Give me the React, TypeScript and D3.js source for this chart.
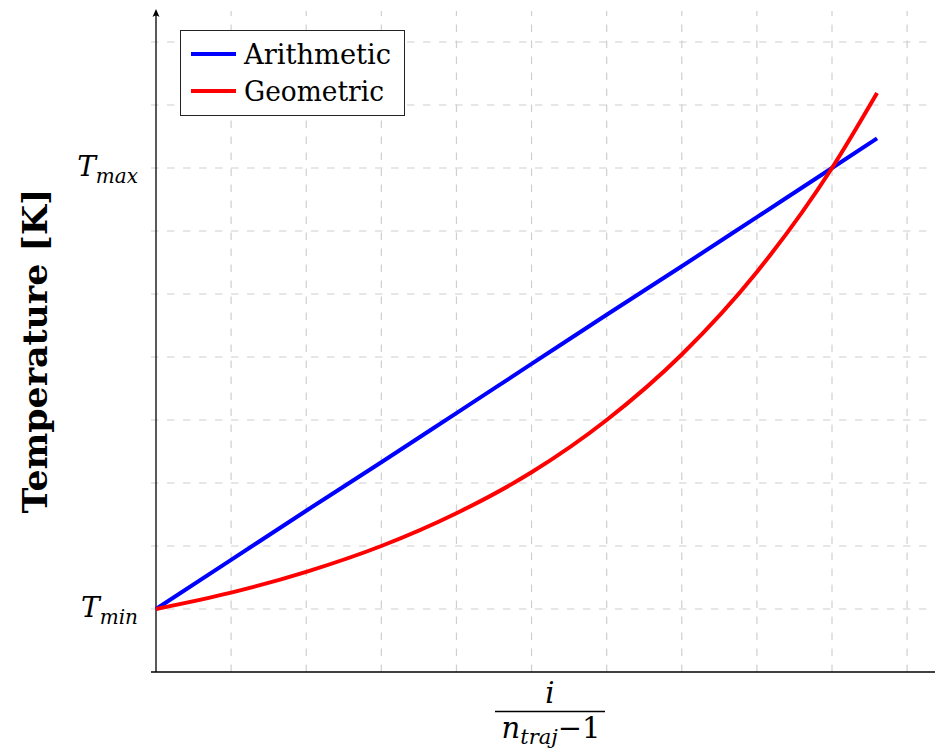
import React, { useEffect, useRef } from 'react';
import * as d3 from 'd3';

// step index i (grid every step), last sample a bit past n_traj - 1
const steps = [0, 1, 2, 3, 4, 5, 6, 7, 8, 9, 9.6];
// temperature in grid units, Tmin = 1, Tmax = 8
const arithmetic = [1, 1.78, 2.56, 3.33, 4.11, 4.89, 5.67, 6.44, 7.22, 8, 8.47];
const geometric = [1, 1.26, 1.59, 2.0, 2.52, 3.17, 4.0, 5.04, 6.35, 8.0, 9.19];
const xGrid = [1, 2, 3, 4, 5, 6, 7, 8, 9, 10];
const yGrid = [1, 2, 3, 4, 5, 6, 7, 8, 9, 10];
const yTickLabels = [
  { v: 1, sub: 'min' },
  { v: 8, sub: 'max' },
];
const seriesNames = ['Arithmetic', 'Geometric'];
const seriesColors = ['#0000ff', '#ff0000'];

const W = 935;
const H = 749;
const FONT = 'DejaVu Serif';

export default function App() {
  const ref = useRef<SVGSVGElement>(null);

  useEffect(() => {
    const svg = d3.select(ref.current);
    svg.selectAll('*').remove();

    const x = d3.scaleLinear().domain([0, 9]).range([156, 832]);
    const y = d3.scaleLinear().domain([1, 8]).range([609, 168]);

    const grid = svg.append('g')
      .attr('stroke', '#cfcfcf')
      .attr('stroke-width', 1.2)
      .attr('stroke-dasharray', '7.5 8.5');
    grid.selectAll('line.h')
      .data(yGrid)
      .enter()
      .append('line')
        .attr('x1', 151)
        .attr('x2', W)
        .attr('y1', d => y(d))
        .attr('y2', d => y(d));
    grid.selectAll('line.v')
      .data(xGrid)
      .enter()
      .append('line')
        .attr('x1', d => x(d))
        .attr('x2', d => x(d))
        .attr('y1', y(0))
        .attr('y2', 11);

    // axes
    const axes = svg.append('g').attr('stroke', '#000').attr('stroke-width', 1.3);
    axes.append('line')
      .attr('x1', 151).attr('x2', W)
      .attr('y1', y(0)).attr('y2', y(0));
    axes.append('line')
      .attr('x1', x(0)).attr('x2', x(0))
      .attr('y1', y(0)).attr('y2', 12);
    svg.append('path')
      .attr('d', `M${x(0)},9 L${x(0) - 3.5},17 Q${x(0)},14 ${x(0) + 3.5},17 Z`)
      .attr('fill', '#000');

    const line = d3.line<number>()
      .x((d, i) => x(steps[i]))
      .y(d => y(d))
      .curve(d3.curveMonotoneX);

    [arithmetic, geometric].forEach((vals, k) => {
      svg.append('path')
        .attr('d', line(vals))
        .attr('fill', 'none')
        .attr('stroke', seriesColors[k])
        .attr('stroke-width', 4);
    });

    // y tick labels
    yTickLabels.forEach(t => {
      const txt = svg.append('text')
        .attr('x', 138)
        .attr('y', y(t.v) + 8)
        .attr('text-anchor', 'end')
        .style('font-family', FONT)
        .attr('font-style', 'italic')
        .attr('font-size', 28);
      txt.append('tspan').text('T');
      txt.append('tspan').attr('font-size', 20).attr('dy', 7).text(t.sub);
    });

    // y label
    svg.append('text')
      .attr('transform', `translate(47,351) rotate(-90)`)
      .attr('text-anchor', 'middle')
      .style('font-family', FONT)
      .attr('font-weight', 'bold')
      .attr('font-size', 33)
      .attr('textLength', 325)
      .attr('lengthAdjust', 'spacingAndGlyphs')
      .text('Temperature [K]');

    // x label as fraction
    svg.append('text')
      .attr('x', 550)
      .attr('y', 703)
      .attr('text-anchor', 'middle')
      .style('font-family', FONT)
      .attr('font-style', 'italic')
      .attr('font-size', 29)
      .text('i');
    svg.append('line')
      .attr('x1', 495).attr('x2', 605)
      .attr('y1', 711.5).attr('y2', 711.5)
      .attr('stroke', '#000')
      .attr('stroke-width', 1.5);
    const den = svg.append('text')
      .attr('x', 551)
      .attr('y', 738)
      .attr('text-anchor', 'middle')
      .style('font-family', FONT)
      .attr('font-size', 29);
    den.append('tspan').attr('font-style', 'italic').text('n');
    den.append('tspan').attr('font-style', 'italic').attr('font-size', 21).attr('dy', 6).text('traj');
    den.append('tspan').attr('dy', -6).text('\u22121');

    // legend
    const lg = svg.append('g');
    lg.append('rect')
      .attr('x', 180.5).attr('y', 30.5)
      .attr('width', 224).attr('height', 85)
      .attr('fill', '#fff')
      .attr('stroke', '#222')
      .attr('stroke-width', 1);
    seriesNames.forEach((name, k) => {
      const cy = 54 + k * 37;
      lg.append('line')
        .attr('x1', 191).attr('x2', 236)
        .attr('y1', cy).attr('y2', cy)
        .attr('stroke', seriesColors[k])
        .attr('stroke-width', 4);
      lg.append('text')
        .attr('x', 244)
        .attr('y', cy + 9.5)
        .style('font-family', FONT)
        .attr('font-size', 28)
        .attr('textLength', k === 0 ? 147 : 140)
        .attr('lengthAdjust', 'spacingAndGlyphs')
        .text(name);
    });
  }, []);

  return (
    <svg ref={ref} width={W} height={H}
      style={{ position: 'absolute', left: 0, top: 0, background: '#fff' }} />
  );
}
